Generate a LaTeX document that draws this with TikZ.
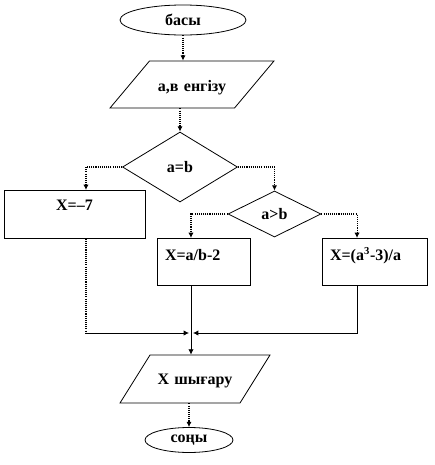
\documentclass[tikz,border=0pt]{standalone}
\usepackage{fontspec}
\setmainfont{Liberation Serif}
\usetikzlibrary{shapes.geometric,arrows.meta}

\begin{document}
\begin{tikzpicture}[
    x=0.75pt, y=-0.75pt,
    every node/.style={font=\fontsize{12}{14}\selectfont\bfseries},
    terminal/.style={ellipse, draw, line width=0.6pt, inner sep=0pt},
    iobox/.style={trapezium, trapezium left angle=50, trapezium right angle=130,
        draw, line width=0.6pt, inner sep=0pt, align=center},
    decide/.style={diamond, draw, line width=0.6pt, inner sep=0pt},
    actbox/.style={rectangle, draw, line width=0.6pt, inner ysep=0pt, anchor=north},
    flow/.style={-{Latex[length=4pt,width=4pt]}, line width=0.8pt,
        dash pattern=on 0.8pt off 0.8pt},
    solidflow/.style={-{Latex[length=4pt,width=4pt]}, line width=0.6pt}
]
\useasboundingbox (0,0) rectangle (435,465);

\node[terminal, minimum width=94.5pt, minimum height=22.5pt] (start) at (183,20) {басы};
\node[iobox, text width=63.8pt, text height=23pt, text depth=12.25pt] (input) at (192,84.5) {а,в енгізу};
\node[decide, minimum width=86.25pt, minimum height=52.5pt] (eq) at (180,167) {a=b};
\node[decide, minimum width=69.75pt, minimum height=34.5pt] (gt) at (274.5,214) {a>b};

\node[actbox, minimum width=105.75pt, text height=15pt, text depth=21pt] (xseven) at (74.5,190) {X=–7};
\node[actbox, minimum width=69.75pt, inner xsep=6pt, text width=57.75pt, align=left,
    text height=16.5pt, text depth=18.75pt] (xdiv) at (203.5,238) {X=a/b-2};
\node[actbox, minimum width=78.75pt, inner xsep=6pt, text width=66.75pt, align=left,
    text height=16.5pt, text depth=18.75pt] (xcube) at (374.5,238) {X=(a\textsuperscript{3}-3)/a};

\node[iobox, trapezium left angle=58, trapezium right angle=122,
    text width=67.5pt, text height=21.75pt, text depth=14.25pt] (output) at (195,379) {X шығару};
\node[terminal, minimum width=66pt, minimum height=18.75pt] (stop) at (189,440) {соңы};

\coordinate (join) at (191,333);

% top part
\draw[flow] (start.south) -- (start.south |- input.north);
\draw[flow] (eq.north |- input.south) -- (eq.north);
\draw[flow] (eq.west) -| ([xshift=8.6pt]xseven.north);
\draw[flow] (eq.east) -| (gt.north);
\draw[flow] (gt.west) -| ([xshift=-9.4pt]xdiv.north);
\draw[flow] (gt.east) -| ([xshift=-13.1pt]xcube.north);

% merge
\draw[line width=0.8pt, dash pattern=on 0.8pt off 0.8pt]
    ([xshift=8.6pt]xseven.south) -- ([xshift=8.6pt]xseven.south |- join);
\draw[solidflow] ([xshift=8.6pt]xseven.south |- join) -- ([xshift=-1.5pt]join);
\draw[solidflow] ([xshift=-13.1pt]xcube.south) |- ([xshift=1.5pt]join);
\draw[solidflow] (xdiv.south -| join) -- (output.north -| join);
\draw[flow] (output.south -| stop.north) -- (stop.north);
\end{tikzpicture}
\end{document}
